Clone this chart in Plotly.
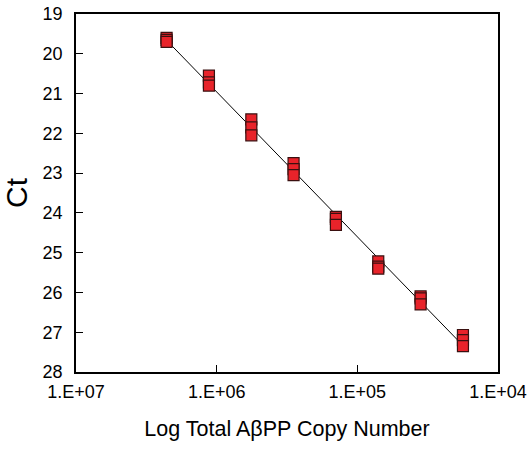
import numpy as np
import plotly.graph_objects as go

# Copy numbers (two-fold dilution series) and Ct replicates
copy_numbers = [2.27e6, 1.135e6, 5.67e5, 2.84e5, 1.42e5, 7.1e4, 3.55e4, 1.775e4]
ct_rep1 = [19.60, 20.55, 21.65, 22.75, 24.10, 25.22, 26.10, 27.07]
ct_rep2 = [19.65, 20.72, 21.85, 22.90, 24.15, 25.35, 26.15, 27.20]
ct_rep3 = [19.70, 20.80, 22.05, 23.05, 24.30, 25.40, 26.30, 27.35]

x_tick_vals = [1e7, 1e6, 1e5, 1e4]
x_tick_text = ["1.E+07", "1.E+06", "1.E+05", "1.E+04"]
y_tick_vals = list(range(19, 29))

fig = go.Figure()

# regression line
all_x = np.log10(np.array(copy_numbers * 3))
all_y = np.array(ct_rep1 + ct_rep2 + ct_rep3)
b, a = np.polyfit(all_x, all_y, 1)
line_x = [copy_numbers[0], copy_numbers[-1]]
line_y = [a + b * np.log10(v) for v in line_x]
fig.add_trace(go.Scatter(x=line_x, y=line_y, mode="lines",
                         line=dict(color="black", width=1), showlegend=False))

for rep in (ct_rep1, ct_rep2, ct_rep3):
    fig.add_trace(go.Scatter(
        x=copy_numbers, y=rep, mode="markers",
        marker=dict(symbol="square", size=11, color="#e8232a",
                    line=dict(color="#3a1010", width=1.2)),
        showlegend=False))

font = "Liberation Sans, Arial, sans-serif"
fig.update_layout(
    width=532, height=451,
    margin=dict(l=76, r=34, t=13.5, b=79),
    paper_bgcolor="white", plot_bgcolor="white",
    font=dict(family=font, color="black"),
    xaxis=dict(type="log", range=[7, 4], tickvals=x_tick_vals, ticktext=x_tick_text,
               automargin="bottom", ticklabeloverflow="allow",
               ticks="inside", ticklen=7, tickcolor="black", showgrid=False,
               zeroline=False, showline=True, linecolor="black", linewidth=1.7,
               mirror=True, tickfont=dict(size=18), ticklabelstandoff=3,
               title=dict(text="Log Total AβPP Copy Number", font=dict(size=21.5), standoff=19)),
    yaxis=dict(range=[28, 19], tickvals=y_tick_vals, ticks="inside", ticklen=7,
               automargin="left", ticklabeloverflow="allow",
               tickcolor="black", showgrid=False, zeroline=False, showline=True,
               linecolor="black", linewidth=1.7, mirror=True, tickfont=dict(size=18),
               ticklabelstandoff=8,
               title=dict(text="Ct", font=dict(size=30), standoff=7)),
)

# remove the default 8px page margin so the figure sits at the window origin
fig.write_html("out.html", config={"displayModeBar": False},
               post_script="document.body.style.margin='0px';")
